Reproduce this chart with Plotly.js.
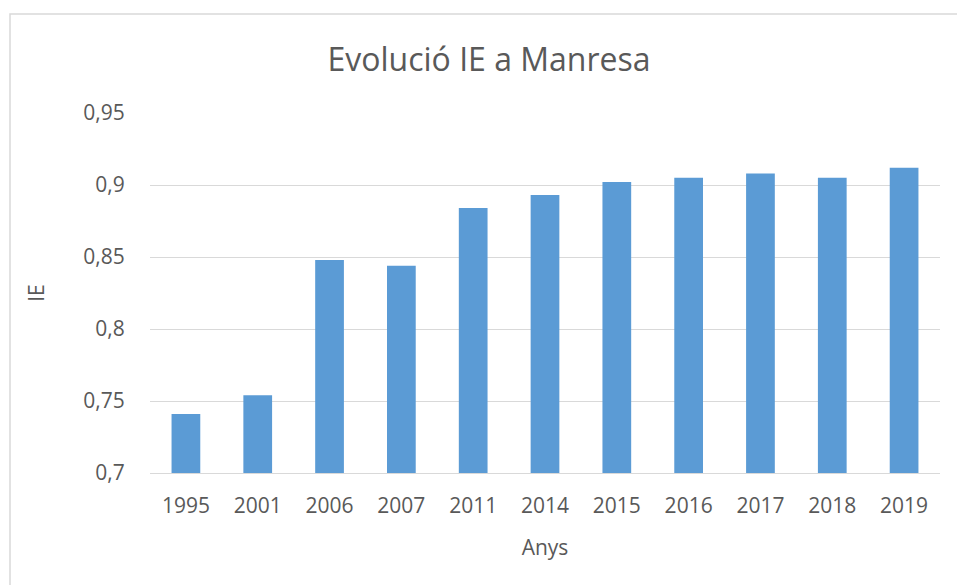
<!DOCTYPE html>
<html>
<head>
<meta charset="utf-8">
<script src="https://cdn.plot.ly/plotly-3.0.1.min.js"></script>
<style>html,body{margin:0;padding:0;background:#fff;}#chart{width:957px;height:585px;}</style>
</head>
<body>
<div id="chart"></div>
<script>
const years = ['1995','2001','2006','2007','2011','2014','2015','2016','2017','2018','2019'];
const ieValues = [0.741, 0.754, 0.848, 0.844, 0.884, 0.893, 0.902, 0.905, 0.908, 0.905, 0.912];
const yTickVals = [0.7, 0.75, 0.8, 0.85, 0.9, 0.95];
const yTickText = ['0,7', '0,75', '0,8', '0,85', '0,9', '0,95'];

const W = 957, H = 585, L = 150, R = 17, T = 113, B = 112;
const pw = W - L - R, ph = H - T - B;
const txt = '#595959';
const fontFam = '"Open Sans", "Liberation Sans", sans-serif';

Plotly.newPlot('chart', [{
  type: 'bar',
  x: years,
  y: ieValues,
  marker: {color: '#5b9bd5'},
  hoverinfo: 'x+y'
}], {
  width: W, height: H,
  margin: {l: L, r: R, t: T, b: B, pad: 0},
  paper_bgcolor: '#fff', plot_bgcolor: '#fff',
  bargap: 0.6,
  showlegend: false,
  font: {family: fontFam, color: txt, size: 21},
  title: {text: 'Evolució IE a Manresa', font: {size: 32, color: txt, family: fontFam},
          xref: 'container', x: 0.511, xanchor: 'center', yref: 'container', y: 1 - 60/H, yanchor: 'middle'},
  xaxis: {
    type: 'category',
    title: {text: 'Anys', font: {size: 21, color: txt}, standoff: 22},
    showgrid: false, showline: true, linecolor: '#d9d9d9', linewidth: 1,
    ticks: 'outside', ticklen: 14, tickcolor: 'rgba(0,0,0,0)',
    tickfont: {size: 21, color: txt}
  },
  yaxis: {
    range: [0.7, 0.95],
    tickvals: yTickVals, ticktext: yTickText,
    title: {text: 'IE', font: {size: 21, color: txt}, standoff: 32},
    showgrid: true, gridcolor: '#d9d9d9', gridwidth: 1,
    zeroline: false, showline: false,
    ticks: 'outside', ticklen: 20, tickcolor: 'rgba(0,0,0,0)',
    tickfont: {size: 21, color: txt}
  },
  shapes: [{
    type: 'rect', xref: 'paper', yref: 'paper',
    x0: (10 - L)/pw, x1: (965 - L)/pw,
    y0: (H - B - 600)/ph, y1: (H - B - 14)/ph,
    line: {color: '#d9d9d9', width: 1.5}, fillcolor: 'rgba(0,0,0,0)', layer: 'below'
  }]
}, {displayModeBar: false, staticPlot: true});
</script>
</body>
</html>
